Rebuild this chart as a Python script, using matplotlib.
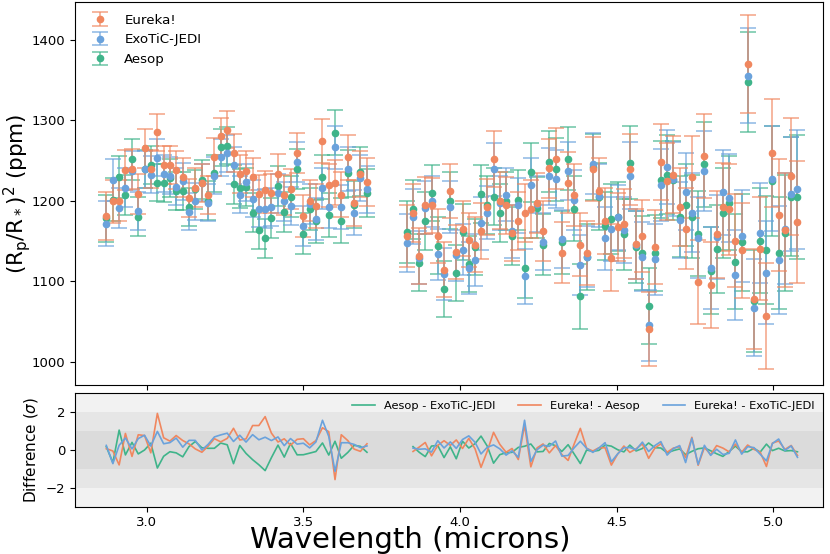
import numpy as np
import matplotlib
matplotlib.use("Agg")
import matplotlib.pyplot as plt

# ---------------- data ----------------
wl_1 = [2.871, 2.892, 2.912, 2.932, 2.953, 2.973, 2.993, 3.013, 3.034, 3.054,
        3.074, 3.094, 3.115, 3.135, 3.155, 3.176, 3.196, 3.216, 3.236, 3.257,
        3.277, 3.297, 3.317, 3.338, 3.358, 3.378, 3.398, 3.419, 3.439, 3.459,
        3.480, 3.500, 3.520, 3.540, 3.561, 3.581, 3.601, 3.621, 3.642, 3.662,
        3.682, 3.703]
wl_2 = [3.830, 3.850, 3.870, 3.889, 3.909, 3.929, 3.949, 3.969, 3.988, 4.008,
        4.028, 4.048, 4.067, 4.087, 4.107, 4.127, 4.147, 4.166, 4.186, 4.206,
        4.226, 4.246, 4.265, 4.285, 4.305, 4.325, 4.345, 4.364, 4.384, 4.404,
        4.424, 4.443, 4.463, 4.483, 4.503, 4.523, 4.542, 4.562, 4.582, 4.602,
        4.622, 4.641, 4.661, 4.681, 4.701, 4.720, 4.740, 4.760, 4.780, 4.800,
        4.819, 4.839, 4.859, 4.879, 4.899, 4.918, 4.938, 4.958, 4.978, 4.997,
        5.017, 5.037, 5.057, 5.077]

eureka_1 = [1181, 1199, 1200, 1238, 1239, 1208, 1265, 1239, 1285, 1244,
            1244, 1238, 1229, 1203, 1216, 1222, 1207, 1254, 1280, 1288,
            1259, 1233, 1237, 1229, 1208, 1213, 1209, 1233, 1207, 1214,
            1259, 1181, 1200, 1193, 1274, 1219, 1222, 1207, 1254, 1197,
            1233, 1223]
jedi_1 = [1171, 1226, 1191, 1216, 1237, 1187, 1239, 1232, 1253, 1233,
          1231, 1217, 1224, 1186, 1199, 1222, 1197, 1231, 1254, 1259,
          1244, 1207, 1223, 1202, 1190, 1190, 1192, 1209, 1199, 1193,
          1248, 1168, 1196, 1177, 1215, 1192, 1266, 1192, 1239, 1185,
          1228, 1214]
aesop_1 = [1178, 1201, 1229, 1207, 1251, 1180, 1239, 1244, 1222, 1222,
           1228, 1212, 1212, 1192, 1214, 1226, 1200, 1234, 1266, 1268,
           1220, 1215, 1217, 1185, 1164, 1153, 1178, 1218, 1186, 1205,
           1239, 1159, 1190, 1174, 1229, 1182, 1284, 1175, 1234, 1195,
           1236, 1209]

eureka_2 = [1156, 1185, 1131, 1194, 1194, 1156, 1114, 1212, 1136, 1165,
            1151, 1145, 1162, 1192, 1252, 1200, 1194, 1160, 1175, 1184,
            1189, 1197, 1162, 1240, 1252, 1135, 1222, 1207, 1145, 1135,
            1239, 1212, 1175, 1129, 1167, 1171, 1239, 1146, 1156, 1040,
            1142, 1248, 1224, 1232, 1192, 1165, 1229, 1099, 1255, 1095,
            1158, 1192, 1189, 1150, 1138, 1370, 1078, 1140, 1057, 1259,
            1182, 1163, 1230, 1173]
jedi_2 = [1147, 1180, 1129, 1191, 1199, 1133, 1109, 1192, 1132, 1139,
          1116, 1126, 1172, 1185, 1239, 1197, 1207, 1162, 1194, 1106,
          1219, 1196, 1149, 1230, 1227, 1152, 1237, 1201, 1120, 1130,
          1246, 1206, 1153, 1165, 1179, 1164, 1231, 1145, 1130, 1045,
          1127, 1219, 1242, 1227, 1176, 1211, 1185, 1154, 1237, 1116,
          1155, 1210, 1203, 1107, 1156, 1355, 1067, 1160, 1110, 1227,
          1126, 1165, 1208, 1214]
aesop_2 = [1161, 1189, 1123, 1174, 1209, 1144, 1090, 1200, 1110, 1161,
           1121, 1142, 1208, 1195, 1205, 1185, 1200, 1156, 1201, 1116,
           1235, 1191, 1145, 1248, 1239, 1148, 1252, 1190, 1081, 1130,
           1242, 1205, 1168, 1177, 1180, 1158, 1247, 1142, 1135, 1069,
           1135, 1226, 1232, 1225, 1180, 1194, 1180, 1159, 1245, 1113,
           1140, 1184, 1197, 1124, 1148, 1347, 1075, 1150, 1139, 1224,
           1135, 1160, 1205, 1204]

eureka_err_1 = [30, 27, 26, 25, 25, 25, 24, 24, 23, 24, 24, 24, 24, 24, 24, 24, 24, 24, 23, 23,
                24, 24, 24, 24, 24, 24, 24, 25, 25, 25, 25, 26, 26, 27, 27, 27, 28, 28, 28, 29,
                29, 30]
jedi_err_1 = [28, 26, 25, 24, 24, 24, 23, 23, 23, 23, 23, 23, 23, 23, 23, 23, 23, 23, 23, 23,
              23, 23, 23, 23, 23, 24, 24, 24, 24, 24, 25, 25, 25, 26, 26, 26, 27, 27, 27, 28,
              28, 29]
aesop_err_1 = [29, 27, 26, 25, 25, 24, 24, 24, 23, 24, 24, 24, 24, 24, 24, 24, 24, 23, 23, 23,
               24, 24, 24, 24, 24, 24, 25, 25, 25, 25, 25, 26, 26, 27, 27, 27, 28, 28, 29, 29,
               30, 30]
eureka_err_2 = [38, 36, 35, 35, 34, 34, 34, 34, 34, 34, 34, 34, 35, 35, 35, 35, 35, 35, 36, 36,
                36, 37, 37, 37, 38, 38, 38, 39, 39, 40, 40, 41, 41, 42, 42, 43, 44, 44, 45, 46,
                46, 47, 48, 48, 49, 50, 51, 52, 52, 53, 54, 55, 57, 58, 59, 61, 62, 64, 66, 67,
                69, 71, 73, 76]
jedi_err_2 = [36, 34, 33, 33, 32, 32, 32, 32, 32, 32, 32, 32, 33, 33, 33, 33, 33, 33, 34, 34,
              34, 35, 35, 35, 36, 36, 36, 37, 37, 38, 38, 39, 39, 40, 40, 41, 42, 42, 43, 44,
              44, 45, 46, 46, 47, 48, 49, 50, 50, 51, 52, 53, 55, 56, 57, 59, 60, 62, 64, 65,
              67, 69, 71, 74]
aesop_err_2 = [39, 37, 36, 36, 35, 35, 35, 35, 35, 35, 35, 35, 36, 36, 36, 36, 36, 36, 37, 37,
               37, 38, 38, 38, 39, 39, 39, 40, 40, 41, 41, 42, 42, 43, 43, 44, 45, 45, 46, 47,
               47, 48, 49, 49, 50, 51, 52, 53, 53, 54, 55, 56, 58, 59, 60, 62, 63, 65, 67, 68,
               70, 72, 74, 77]

labels = ["Eureka!", "ExoTiC-JEDI", "Aesop"]
diff_labels = ["Aesop - ExoTiC-JEDI", "Eureka! - Aesop", "Eureka! - ExoTiC-JEDI"]

C_EUR = "#f0875f"
C_JEDI = "#6aa2dc"
C_AES = "#3fb48a"

# ---------------- figure ----------------
fig = plt.figure(figsize=(8.3, 5.54), dpi=100)
ax1 = fig.add_axes([0.0904, 0.305, 0.9012, 0.6919])
ax2 = fig.add_axes([0.0904, 0.0854, 0.9012, 0.2046], sharex=ax1)

series = {
    "Aesop": (aesop_1 + aesop_2, aesop_err_1 + aesop_err_2, C_AES),
    "ExoTiC-JEDI": (jedi_1 + jedi_2, jedi_err_1 + jedi_err_2, C_JEDI),
    "Eureka!": (eureka_1 + eureka_2, eureka_err_1 + eureka_err_2, C_EUR),
}
wl_all = wl_1 + wl_2
handles = {}
for name in ["Aesop", "ExoTiC-JEDI", "Eureka!"]:
    vals, errs, col = series[name]
    cont = ax1.errorbar(wl_all, vals, yerr=errs, fmt="o", color=col, ms=4.5,
                        ecolor=col, elinewidth=1.3, capsize=6, capthick=1.3,
                        label=name)
    for c in cont[1]:
        c.set_alpha(0.65)
    for lc in cont[2]:
        lc.set_alpha(0.65)
    handles[name] = cont

ax1.legend([handles[n] for n in labels], labels, loc="upper left",
           frameon=False, fontsize=9.6)
ax1.set_ylim(970.8, 1447)
ax1.set_yticks([1000, 1100, 1200, 1300, 1400])
ax1.set_ylabel(r"(R$_\mathregular{p}$/R$_*$)$^\mathregular{2}$ (ppm)",
               fontsize=15.5)
ax1.yaxis.set_label_coords(-0.056, 0.5)
ax1.tick_params(labelbottom=False, labelsize=9.5)


def sig_diff(a, b, ea, eb):
    a, b, ea, eb = map(np.asarray, (a, b, ea, eb))
    return (a - b) / np.sqrt(ea ** 2 + eb ** 2)


for k in (3, 2, 1):
    ax2.axhspan(-k, k, color="gray", alpha=0.1, lw=0)

segments = [
    (wl_1, eureka_1, jedi_1, aesop_1, eureka_err_1, jedi_err_1, aesop_err_1),
    (wl_2[1:], eureka_2[1:], jedi_2[1:], aesop_2[1:],
     eureka_err_2[1:], jedi_err_2[1:], aesop_err_2[1:]),
]
for si, (w, e, j, a, ee, je, ae) in enumerate(segments):
    ax2.plot(w, sig_diff(a, j, ae, je), color=C_AES, lw=1.2,
             label=diff_labels[0] if si == 0 else None)
    ax2.plot(w, sig_diff(e, a, ee, ae), color=C_EUR, lw=1.2,
             label=diff_labels[1] if si == 0 else None)
    ax2.plot(w, sig_diff(e, j, ee, je), color=C_JEDI, lw=1.2,
             label=diff_labels[2] if si == 0 else None)

ax2.set_ylim(-3, 3)
ax2.set_yticks([-2, 0, 2])
ax2.set_xlim(2.7712, 5.1586)
ax2.set_ylabel(r"Difference ($\sigma$)", fontsize=11)
ax2.tick_params(labelsize=9.5)
ax2.legend(loc="upper right", ncol=3, frameon=False, fontsize=8.2,
           borderaxespad=0.3)

fig.text(0.494, 1 - 547.5 / 554.0, "Wavelength (microns)", fontsize=21,
         ha="center", va="baseline")

fig.savefig("out.png", dpi=100)
